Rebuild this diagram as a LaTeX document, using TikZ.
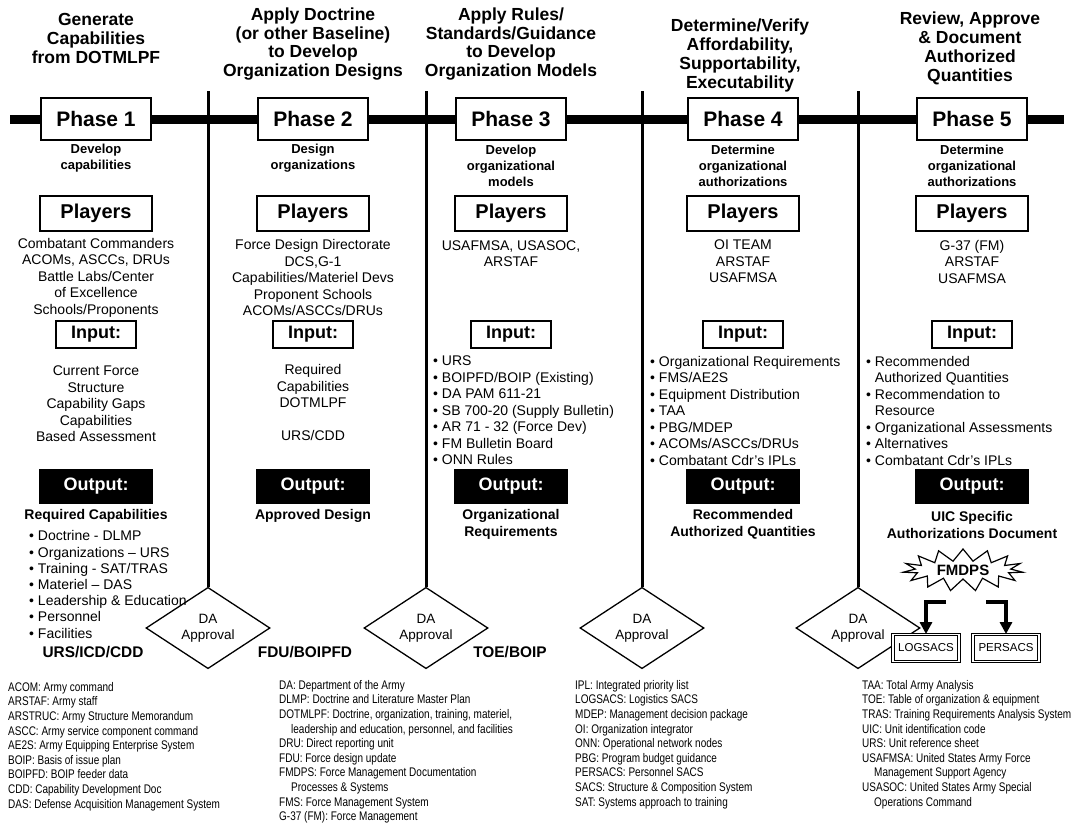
\documentclass[tikz,border=0pt]{standalone}
\usepackage{fontspec}
\setmainfont{Liberation Sans}
\newfontfamily\narrowfont[FakeStretch=0.8]{Liberation Sans}
\usetikzlibrary{shapes.geometric,shapes.symbols,arrows.meta}
\begin{document}
\begin{tikzpicture}[x=1pt,y=-1pt,
    phasebox/.style={draw,line width=2.5pt,fill=white,minimum width=110pt,minimum height=42pt,inner sep=0pt,font=\bfseries\fontsize{21}{24}\selectfont},
    playerbox/.style={draw,line width=2pt,fill=white,minimum width=112pt,minimum height=35pt,inner sep=0pt,font=\bfseries\fontsize{20}{24}\selectfont},
    inbox/.style={draw,line width=2pt,minimum width=80pt,minimum height=27pt,inner sep=0pt,font=\bfseries\fontsize{18}{20}\selectfont},
    outbox/.style={fill=black,text=white,minimum width=114pt,minimum height=35pt,inner sep=0pt,font=\bfseries\fontsize{18}{20}\selectfont},
    head/.style={align=center,inner sep=0pt,font=\bfseries\fontsize{17.5}{18.8}\selectfont},
    task/.style={align=center,inner sep=0pt,font=\bfseries\fontsize{13}{16}\selectfont},
    body/.style={align=center,inner sep=0pt,font=\fontsize{14}{16.5}\selectfont},
    list/.style={body,align=left,anchor=west},
    result/.style={align=center,inner sep=0pt,font=\bfseries\fontsize{14}{17}\selectfont},
    doc/.style={inner sep=0pt,font=\bfseries\fontsize{15.4}{18}\selectfont},
    approval/.style={diamond,draw,line width=1.3pt,minimum width=124pt,minimum height=72pt,inner sep=0pt,align=center,font=\fontsize{13.5}{16}\selectfont},
    divider/.style={line width=3pt},
    feed/.style={line width=4pt,-{Triangle[width=12pt,length=12pt]}},
    sacs/.style={draw,double=white,double distance=1.4pt,line width=0.9pt,fill=white,minimum width=66pt,minimum height=27pt,inner sep=0pt,font=\fontsize{11.5}{14}\selectfont},
    legend/.style={anchor=north west,align=left,inner sep=0pt,font=\narrowfont\fontsize{12.5}{14.6}\selectfont}]
\useasboundingbox (0,0) rectangle (1074,827);
\coordinate (lineL) at (10,119);
\coordinate (lineR) at (1064,119);
\draw[line width=9pt] (lineL) -- (lineR);
\foreach \i/\x in {1/208,2/426,3/642,4/858} {
    \node[approval] (dia\i) at (\x,628) {DA\\Approval};
    \coordinate (top\i) at (\x,91);
    \draw[divider] (top\i) -- (dia\i.north);
}
\foreach \n/\x in {1/96,2/313,3/511,4/743,5/972} {
    \node[phasebox] (phase\n) at (\x,119) {Phase \n};
    \node[playerbox] (players\n) at (\x,213) {Players};
    \node[inbox] (input\n) at (\x,334) {Input:};
    \node[outbox] (output\n) at (\x,486) {Output:};
}
\node[head] (head1) at (96,38.5) {Generate\\Capabilities\\from DOTMLPF};
\node[head] (head2) at (313,44) {Apply Doctrine\\(or other Baseline)\\to Develop\\Organization Designs};
\node[head] (head3) at (511,44) {Apply Rules/\\Standards/Guidance\\to Develop\\Organization Models};
\node[head] (head4) at (740,55.5) {Determine/Verify\\Affordability,\\Supportability,\\Executability};
\node[head] (head5) at (970,48.5) {Review, Approve\\\& Document\\Authorized\\Quantities};
\node[task] (task1) at (96,158) {Develop\\capabilities};
\node[task] (task2) at (313,158) {Design\\organizations};
\node[task] (task3) at (511,166) {Develop\\organizational\\models};
\node[task] (task4) at (743,166) {Determine\\organizational\\authorizations};
\node[task] (task5) at (972,166) {Determine\\organizational\\authorizations};
\node[body] (who1) at (96,277.5) {Combatant Commanders\\ACOMs, ASCCs, DRUs\\Battle Labs/Center\\of Excellence\\Schools/Proponents};
\node[body] (who2) at (313,277.5) {Force Design Directorate\\DCS,G-1\\Capabilities/Materiel Devs\\Proponent Schools\\ACOMs/ASCCs/DRUs};
\node[body] (who3) at (511,253.5) {USAFMSA, USASOC,\\ARSTAF};
\node[body] (who4) at (743,261.5) {OI TEAM\\ARSTAF\\USAFMSA};
\node[body] (who5) at (972,261.5) {G-37 (FM)\\ARSTAF\\USAFMSA};
\node[body] (in1) at (96,404) {Current Force\\Structure\\Capability Gaps\\Capabilities\\Based Assessment};
\node[body] (in2) at (313,402.5) {Required\\Capabilities\\DOTMLPF\\[16.5pt]URS/CDD};
\node[list] (in3) at (433,410.5) {• URS\\• BOIPFD/BOIP (Existing)\\• DA PAM 611-21\\• SB 700-20 (Supply Bulletin)\\• AR 71 - 32 (Force Dev)\\• FM Bulletin Board\\• ONN Rules};
\node[list] (in4) at (650,410.5) {• Organizational Requirements\\• FMS/AE2S\\• Equipment Distribution\\• TAA\\• PBG/MDEP\\• ACOMs/ASCCs/DRUs\\• Combatant Cdr’s IPLs};
\node[list] (in5) at (866,410.5) {• Recommended\\\phantom{• }Authorized Quantities\\• Recommendation to\\\phantom{• }Resource\\• Organizational Assessments\\• Alternatives\\• Combatant Cdr’s IPLs};
\node[result] (out1) at (96,516) {Required Capabilities};
\node[result] (out2) at (313,516) {Approved Design};
\node[result] (out3) at (511,524.5) {Organizational\\Requirements};
\node[result] (out4) at (743,524.5) {Recommended\\Authorized Quantities};
\node[result] (out5) at (972,524.5) {UIC Specific\\Authorizations Document};
\node[list,font=\fontsize{14}{16.2}\selectfont] (caps) at (29,584.5) {• Doctrine - DLMP\\• Organizations – URS\\• Training - SAT/TRAS\\• Materiel – DAS\\• Leadership \& Education\\• Personnel\\• Facilities};
\node[doc] (doc1) at (93,652) {URS/ICD/CDD};
\node[doc] (doc2) at (305,652) {FDU/BOIPFD};
\node[doc] (doc3) at (510,652) {TOE/BOIP};
\node[starburst,draw,line width=1.2pt,fill=white,starburst points=15,starburst point height=12pt,random starburst=0,minimum width=120pt,minimum height=42pt,inner sep=0pt,font=\bfseries\fontsize{15}{18}\selectfont] (fmdps) at (963,570) {FMDPS};
\node[sacs] (logsacs) at (926,648) {LOGSACS};
\node[sacs] (persacs) at (1006,648) {PERSACS};
\coordinate (fmL) at (946,602);
\coordinate (fmR) at (986,602);
\draw[feed] (fmL) -| (logsacs.north);
\draw[feed] (fmR) -| (persacs.north);
\node[legend] (key1) at (8,682) {ACOM: Army command\\ARSTAF: Army staff\\ARSTRUC: Army Structure Memorandum\\ASCC: Army service component command\\AE2S: Army Equipping Enterprise System\\BOIP: Basis of issue plan\\BOIPFD: BOIP feeder data\\CDD: Capability Development Doc\\DAS: Defense Acquisition Management System};
\node[legend] (key2) at (279,680) {DA: Department of the Army\\DLMP: Doctrine and Literature Master Plan\\DOTMLPF: Doctrine, organization, training, materiel,\\\hspace*{12pt}leadership and education, personnel, and facilities\\DRU: Direct reporting unit\\FDU: Force design update\\FMDPS: Force Management Documentation\\\hspace*{12pt}Processes \& Systems\\FMS: Force Management System\\G-37 (FM): Force Management};
\node[legend] (key3) at (575,680) {IPL: Integrated priority list\\LOGSACS: Logistics SACS\\MDEP: Management decision package\\OI: Organization integrator\\ONN: Operational network nodes\\PBG: Program budget guidance\\PERSACS: Personnel SACS\\SACS: Structure \& Composition System\\SAT: Systems approach to training};
\node[legend] (key4) at (862,680) {TAA: Total Army Analysis\\TOE: Table of organization \& equipment\\TRAS: Training Requirements Analysis System\\UIC: Unit identification code\\URS: Unit reference sheet\\USAFMSA: United States Army Force\\\hspace*{12pt}Management Support Agency\\USASOC: United States Army Special\\\hspace*{12pt}Operations Command};
\end{tikzpicture}
\end{document}
